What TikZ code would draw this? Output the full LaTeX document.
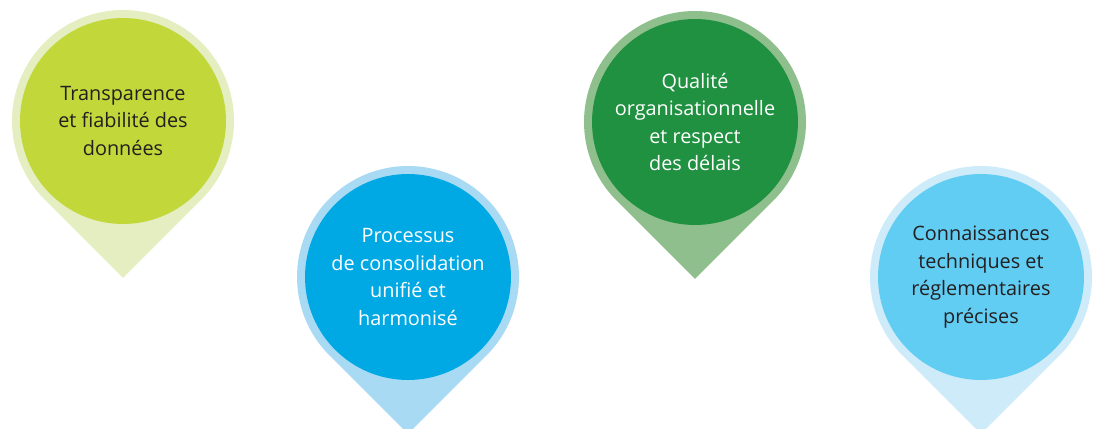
\documentclass[tikz,border=0pt]{standalone}
\usepackage{fontspec}
\setmainfont{Open Sans}
\definecolor{limeL}{HTML}{E4EEC0}
\definecolor{limeD}{HTML}{C2D73A}
\definecolor{blueL}{HTML}{A9DAF3}
\definecolor{blueD}{HTML}{00A9E4}
\definecolor{greenL}{HTML}{8FBF8D}
\definecolor{greenD}{HTML}{1F9140}
\definecolor{skyL}{HTML}{CDEBF8}
\definecolor{skyD}{HTML}{62CDF3}
\definecolor{txtdark}{HTML}{231F20}
\tikzset{pinhead/.style = {circle, minimum size=4.12cm, inner sep=0pt, align=center,
                           font=\fontsize{11.3}{15.6}\selectfont}}

\begin{document}
\begin{tikzpicture}[x=0.02cm, y=0.02cm]
  \clip (0,0) rectangle (1098,429);
  \useasboundingbox (0,0) rectangle (1098,429);

  \foreach \cx/\cy/\nm/\lite/\dark/\tcol/\txt in {
      123/308/transp/limeL/limeD/txtdark/{Transparence\\et fiabilité des\\données},
      408/152/proc/blueL/blueD/white/{Processus\\de consolidation\\unifié et\\harmonisé},
      695/307/qual/greenL/greenD/white/{Qualité\\organisationnelle\\et respect\\des délais},
      981/152/conn/skyL/skyD/txtdark/{Connaissances\\techniques et\\réglementaires\\précises}}{
    \fill [\lite] (\cx, \cy) ++(-45:111) arc [start angle=-45, end angle=225, radius=111]
          -- ++(78.49, -78.49) -- cycle;
    \node [pinhead, fill=\dark, text=\tcol] (\nm) at (\cx, \cy) {\txt};
  }
\end{tikzpicture}
\end{document}
